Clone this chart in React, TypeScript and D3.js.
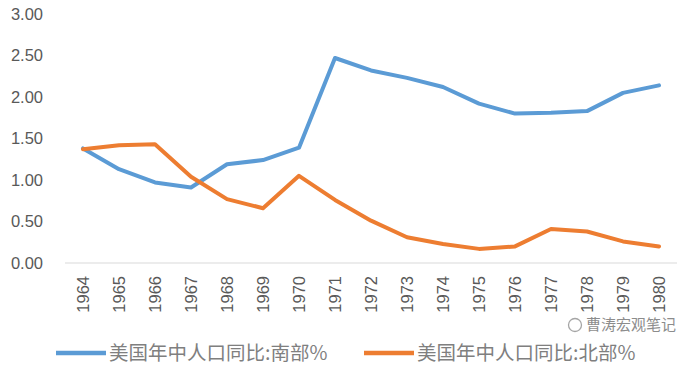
import React from 'react';
import * as d3 from 'd3';

const years = ['1964', '1965', '1966', '1967', '1968', '1969', '1970', '1971', '1972', '1973', '1974', '1975', '1976', '1977', '1978', '1979', '1980'];
const south = [1.38, 1.13, 0.97, 0.91, 1.19, 1.24, 1.39, 2.47, 2.32, 2.23, 2.12, 1.92, 1.80, 1.81, 1.83, 2.05, 2.14];
const north = [1.37, 1.42, 1.43, 1.04, 0.77, 0.66, 1.05, 0.76, 0.51, 0.31, 0.23, 0.17, 0.20, 0.41, 0.38, 0.26, 0.20];
const yTicks = [0, 0.5, 1, 1.5, 2, 2.5, 3];
const seriesNames = ['美国年中人口同比:南部%', '美国年中人口同比:北部%'];
const colors = ['#5B9BD5', '#ED7D31'];

const W = 692;
const H = 374;

const App: React.FC = () => {
  const x = d3.scaleBand().domain(years).range([65, 677]);
  const y = d3.scaleLinear().domain([0, 3]).range([263, 14]);
  const fmt = d3.format('.2f');

  const line = d3
    .line<number>()
    .x((_, i) => (x(years[i]) as number) + x.bandwidth() / 2)
    .y((d) => y(d));

  const series = [south, north];
  const font = '"Liberation Sans", Arial, sans-serif';

  return (
    <svg width={W} height={H} style={{ position: 'absolute', left: 0, top: 0, background: '#fff' }}>
      {/* y-axis labels */}
      {yTicks.map((t) => (
        <text key={t} x={43} y={y(t)} dy="0.35em" textAnchor="end" fontSize={16.5} fill="#595959" fontFamily={font}>
          {fmt(t)}
        </text>
      ))}

      {/* x-axis line */}
      <line x1={65} x2={677} y1={y(0)} y2={y(0)} stroke="#d9d9d9" strokeWidth={1.2} />

      {/* x-axis labels */}
      {years.map((yr) => {
        const cx = (x(yr) as number) + x.bandwidth() / 2;
        return (
          <text
            key={yr}
            transform={`translate(${cx}, 276) rotate(-90)`}
            textAnchor="end"
            dy="0.35em"
            fontSize={16.5}
            fill="#595959"
            fontFamily={font}
          >
            {yr}
          </text>
        );
      })}

      {/* lines */}
      {series.map((s, i) => (
        <path key={i} d={line(s) || ''} fill="none" stroke={colors[i]} strokeWidth={4} strokeLinejoin="round" strokeLinecap="round" />
      ))}

      {/* legend */}
      {[0, 1].map((i) => {
        const lx = i === 0 ? 56 : 364;
        return (
          <g key={i}>
            <line x1={lx} x2={lx + 50} y1={353} y2={353} stroke={colors[i]} strokeWidth={4.5} />
            <text x={lx + 53} y={353} dy="0.35em" fontSize={19.5} fill="#7f7f7f" fontFamily='"Noto Sans CJK SC", sans-serif'>
              {seriesNames[i]}
            </text>
          </g>
        );
      })}

      {/* watermark */}
      <g opacity={0.75}>
        <circle cx={575} cy={325} r={6.5} fill="none" stroke="#888" strokeWidth={1.3} />
        <text x={586} y={325} dy="0.35em" fontSize={15} fill="#666" fontFamily='"Noto Sans CJK SC", sans-serif'>
          曹涛宏观笔记
        </text>
      </g>
    </svg>
  );
};

export default App;
